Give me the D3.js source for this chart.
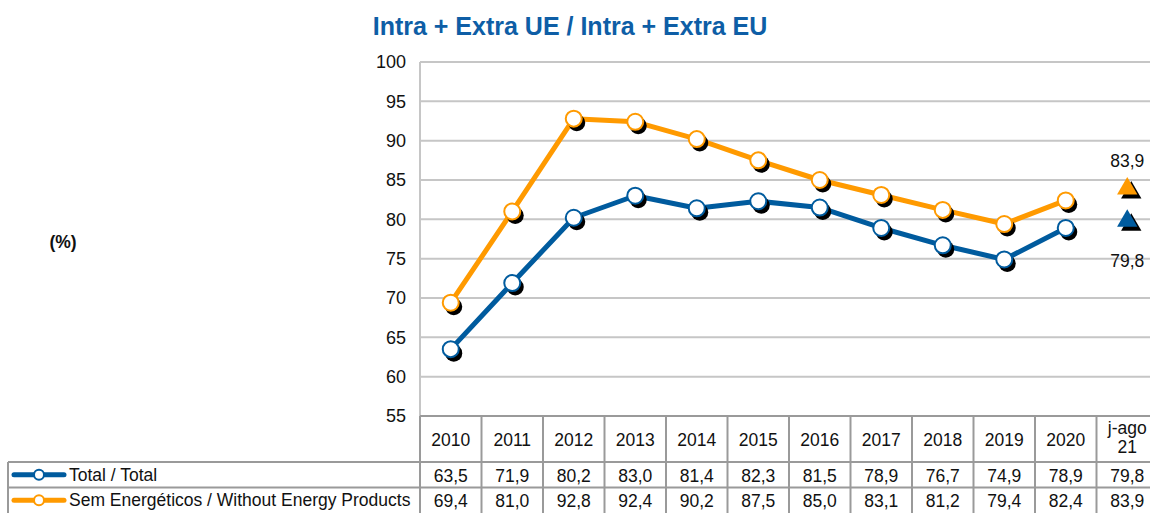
<!DOCTYPE html>
<html>
  <head>
    <meta charset="UTF-8">
    <style>
      body {
        margin: 0;
        background: #fff;
        font-family: "Liberation Sans", Arial, Helvetica, sans-serif;
      }
      svg text {
        fill: #111;
      }
    </style>
    <script src="https://d3js.org/d3.v7.min.js"></script>
  </head>
  <body>
    <svg id="chart"></svg>
    <script type="text/javascript">
      const categories = ['2010', '2011', '2012', '2013', '2014', '2015', '2016', '2017', '2018', '2019', '2020', 'j-ago 21']
      const totalValues = [63.5, 71.9, 80.2, 83.0, 81.4, 82.3, 81.5, 78.9, 76.7, 74.9, 78.9, 79.8]
      const semEnergValues = [69.4, 81.0, 92.8, 92.4, 90.2, 87.5, 85.0, 83.1, 81.2, 79.4, 82.4, 83.9]
      const yTicks = [55, 60, 65, 70, 75, 80, 85, 90, 95, 100]

      const series = [
        { name: 'Total / Total', values: totalValues, color: '#005b9e', labelBelow: true },
        { name: 'Sem Energéticos / Without Energy Products', values: semEnergValues, color: '#ff9a00', labelBelow: false }
      ]

      const width = 1150
      const height = 513
      const plotLeft = 420
      const colW = 61.5
      const yTop = 62
      const yBottom = 416

      const svg = d3.select('#chart')
        .attr('width', width)
        .attr('height', height)

      const x = d3.scaleBand()
        .domain(categories)
        .range([plotLeft, plotLeft + colW * categories.length])

      const y = d3.scaleLinear()
        .domain([55, 100])
        .range([yBottom, yTop])

      const fmt = v => d3.format('.1f')(v).replace('.', ',')

      // title
      svg.append('text')
        .attr('x', 570)
        .attr('y', 35)
        .attr('text-anchor', 'middle')
        .style('font-size', '25px')
        .style('font-weight', 'bold')
        .style('fill', '#0e5ea6')
        .text('Intra + Extra UE / Intra + Extra EU')

      svg.append('text')
        .attr('x', 63)
        .attr('y', 248)
        .attr('text-anchor', 'middle')
        .style('font-size', '17.5px')
        .style('font-weight', 'bold')
        .text('(%)')

      // gridlines
      svg.append('g')
        .selectAll('line')
        .data(yTicks)
        .enter()
        .append('line')
        .attr('x1', plotLeft)
        .attr('x2', width)
        .attr('y1', d => y(d))
        .attr('y2', d => y(d))
        .attr('stroke', '#c6c6c6')
        .attr('stroke-width', 2)

      svg.append('line')
        .attr('x1', plotLeft).attr('x2', plotLeft)
        .attr('y1', yTop).attr('y2', yBottom)
        .attr('stroke', '#c6c6c6')
        .attr('stroke-width', 2)

      // y axis
      const yAxis = svg.append('g')
        .attr('transform', `translate(${plotLeft}, 0)`)
        .call(d3.axisLeft(y).tickValues(yTicks).tickSize(0).tickPadding(14))
      yAxis.select('.domain').remove()
      yAxis.selectAll('text')
        .style('font-size', '18px')
        .style('font-family', '"Liberation Sans", Arial, sans-serif')
        .attr('fill', '#111')

      const lineCats = categories.slice(0, -1)
      const lastCat = categories[categories.length - 1]
      const cx = c => x(c) + x.bandwidth() / 2

      series.forEach(s => {
        const pts = lineCats.map((c, i) => ({ c, v: s.values[i] }))
        const line = d3.line().x(d => cx(d.c)).y(d => y(d.v))

        svg.append('path')
          .datum(pts)
          .attr('d', line)
          .attr('fill', 'none')
          .attr('stroke', s.color)
          .attr('stroke-width', 5)
          .attr('stroke-linejoin', 'round')

        // shadows
        svg.append('g')
          .selectAll('circle')
          .data(pts)
          .enter()
          .append('circle')
          .attr('cx', d => cx(d.c) + 3)
          .attr('cy', d => y(d.v) + 4)
          .attr('r', 8.5)
          .attr('fill', '#000')

        svg.append('g')
          .selectAll('circle')
          .data(pts)
          .enter()
          .append('circle')
          .attr('cx', d => cx(d.c))
          .attr('cy', d => y(d.v))
          .attr('r', 8)
          .attr('fill', '#fff')
          .attr('stroke', s.color)
          .attr('stroke-width', 2)

        // last value triangle
        const lastV = s.values[s.values.length - 1]
        const tri = d3.symbol().type(d3.symbolTriangle).size(180)
        svg.append('path')
          .attr('d', tri())
          .attr('transform', `translate(${cx(lastCat) + 4}, ${y(lastV) + 4})`)
          .attr('fill', '#000')
        svg.append('path')
          .attr('d', tri())
          .attr('transform', `translate(${cx(lastCat)}, ${y(lastV)})`)
          .attr('fill', s.color)

        svg.append('text')
          .attr('x', cx(lastCat))
          .attr('y', s.labelBelow ? y(lastV) + 46 : y(lastV) - 22)
          .attr('text-anchor', 'middle')
          .style('font-size', '17.5px')
          .text(fmt(lastV))
      })

      // data table
      const rowH = 25.5
      const headTop = yBottom
      const headBottom = 462
      const tableRight = plotLeft + colW * categories.length
      const tbl = svg.append('g')
      const border = '#9a9a9a'

      tbl.append('line')
        .attr('x1', plotLeft).attr('x2', tableRight)
        .attr('y1', headTop).attr('y2', headTop)
        .attr('stroke', border).attr('stroke-width', 2)

      categories.forEach((c, i) => {
        tbl.append('line')
          .attr('x1', x(c)).attr('x2', x(c))
          .attr('y1', headTop).attr('y2', height)
          .attr('stroke', border).attr('stroke-width', 2)
      })

      const hdr = tbl.selectAll('text.hdr')
        .data(categories)
        .enter()
        .append('text')
        .attr('class', 'hdr')
        .attr('text-anchor', 'middle')
        .style('font-size', '17.5px')
      hdr.each(function (d) {
        const parts = d.split(' ')
        const t = d3.select(this)
        if (parts.length === 1) {
          t.append('tspan').attr('x', cx(d)).attr('y', 446).text(d)
        } else {
          t.append('tspan').attr('x', cx(d)).attr('y', 434).text(parts[0])
          t.append('tspan').attr('x', cx(d)).attr('y', 453).text(parts[1])
        }
      })

      series.forEach((s, r) => {
        const top = headBottom + r * rowH
        tbl.append('line')
          .attr('x1', 8).attr('x2', tableRight)
          .attr('y1', top).attr('y2', top)
          .attr('stroke', border).attr('stroke-width', 2)

        const my = top + rowH / 2
        tbl.append('line')
          .attr('x1', 14).attr('x2', 64)
          .attr('y1', my).attr('y2', my)
          .attr('stroke', s.color).attr('stroke-width', 5)
          .attr('stroke-linecap', 'round')
        tbl.append('circle')
          .attr('cx', 39).attr('cy', my).attr('r', 5)
          .attr('fill', '#fff').attr('stroke', s.color).attr('stroke-width', 2)

        tbl.append('text')
          .attr('x', 69)
          .attr('y', my + 6)
          .style('font-size', '17.5px')
          .text(s.name)

        tbl.selectAll(null)
          .data(s.values)
          .enter()
          .append('text')
          .attr('x', (d, i) => cx(categories[i]))
          .attr('y', my + 7)
          .attr('text-anchor', 'middle')
          .style('font-size', '17.5px')
          .text(d => fmt(d))
      })

      tbl.append('line')
        .attr('x1', 8).attr('x2', 8)
        .attr('y1', headBottom).attr('y2', height)
        .attr('stroke', border).attr('stroke-width', 2)
    </script>
  </body>
</html>
